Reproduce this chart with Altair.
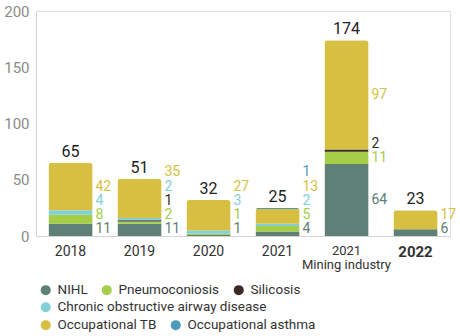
import altair as alt
import pandas as pd

categories = ["2018", "2019", "2020", "2021", "2021 Mining", "2022"]
series = ["NIHL", "Pneumoconiosis", "Silicosis",
          "Chronic obstructive airway disease", "Occupational TB", "Occupational asthma"]
nihl = [11, 11, 1, 4, 64, 6]
pneumoconiosis = [8, 2, 1, 5, 11, 0]
silicosis = [0, 1, 0, 0, 2, 0]
copd = [4, 2, 3, 2, 0, 0]
occ_tb = [42, 35, 27, 13, 97, 17]
occ_asthma = [0, 0, 0, 1, 0, 0]
totals = [65, 51, 32, 25, 174, 23]
colors = ["#5e8076", "#a5cd48", "#3a2a26", "#80d0d8", "#d6bf41", "#4f9ab6"]

values_by_series = [nihl, pneumoconiosis, silicosis, copd, occ_tb, occ_asthma]

# label layout (data units): centre of segment, pushed up to avoid overlap
GAP = 12.6
MIN_FIRST = 6.2
rows = []
for ci, cat in enumerate(categories):
    cum = 0.0
    prev = None
    for si, s in enumerate(series):
        v = values_by_series[si][ci]
        if v <= 0:
            continue
        c = cum + v / 2.0
        pos = max(c, MIN_FIRST) if prev is None else max(c, prev + GAP)
        rows.append({"cat": cat, "series": s, "idx": si, "value": v, "labelpos": pos})
        prev = pos
        cum += v
df = pd.DataFrame(rows)
tot_df = pd.DataFrame({"cat": categories, "total": totals})

FONT = "Roboto"

x_enc = alt.X(
    "cat:N", sort=categories,
    scale=alt.Scale(paddingInner=0.36, paddingOuter=0.18),
    axis=alt.Axis(
        title=None, labelAngle=0, ticks=False, domainColor="#d4d4d4",
        labelColor="#333333", labelPadding=8, labelLineHeight=14,
        labelExpr="datum.value == '2021 Mining' ? ['2021', 'Mining industry'] : datum.value",
        labelFontSize={"expr": "datum.value == '2021 Mining' ? 13 : (datum.value == '2022' ? 15 : 14)"},
        labelFontWeight={"expr": "datum.value == '2022' ? 'bold' : 'normal'"},
    ),
)

def color_enc(legend):
    return alt.Color("series:N", scale=alt.Scale(domain=series, range=colors), legend=legend)

def leg(vals, y):
    return alt.Legend(
        values=vals, orient="none", legendX=3, legendY=y, direction="horizontal",
        title=None, symbolType="circle", symbolSize=100, symbolOpacity=1,
        symbolStrokeWidth=0, labelFontSize=13.5, labelColor="#333333", labelFont=FONT,
        labelLimit=0, columnPadding=12, labelOffset=5, padding=0,
    )

bars = alt.Chart(df).mark_bar(cornerRadiusTopLeft=3, cornerRadiusTopRight=3).encode(
    x=x_enc,
    y=alt.Y("value:Q", stack="zero",
            scale=alt.Scale(domain=[0, 200]),
            axis=alt.Axis(title=None, values=[0, 50, 100, 150, 200], ticks=False, grid=False,
                          domainColor="#d4d4d4", labelColor="#8a8a8a", labelFontSize=15,
                          labelPadding=7)),
    order=alt.Order("idx:Q"),
    color=color_enc(leg(series[:3], 272)),
)

labels = alt.Chart(df).mark_text(align="left", baseline="middle", dx=25, fontSize=14, font=FONT).encode(
    x=alt.X("cat:N", sort=categories),
    y=alt.Y("labelpos:Q"),
    text=alt.Text("value:Q"),
    color=color_enc(None),
)

tot = alt.Chart(tot_df).mark_text(baseline="bottom", dy=-3, fontSize=16, color="#222222", font=FONT).encode(
    x=alt.X("cat:N", sort=categories),
    y=alt.Y("total:Q"),
    text=alt.Text("total:Q"),
)

leg2 = alt.Chart(df).mark_circle(opacity=0).encode(
    x=alt.X("cat:N", sort=categories), y=alt.value(0),
    color=color_enc(leg([series[3]], 289.5)),
)
leg3 = alt.Chart(df).mark_circle(opacity=0).encode(
    x=alt.X("cat:N", sort=categories), y=alt.value(0),
    color=color_enc(leg(series[4:], 307)),
)

chart = alt.layer(bars, labels, tot, leg2, leg3).resolve_scale(color="independent").properties(
    width=414, height=225,
    padding={"left": 3, "top": 4, "right": 0, "bottom": 0},
).configure_view(stroke=None).configure(font=FONT)

chart.save("out.html", embed_options={"renderer": "svg", "actions": False})
